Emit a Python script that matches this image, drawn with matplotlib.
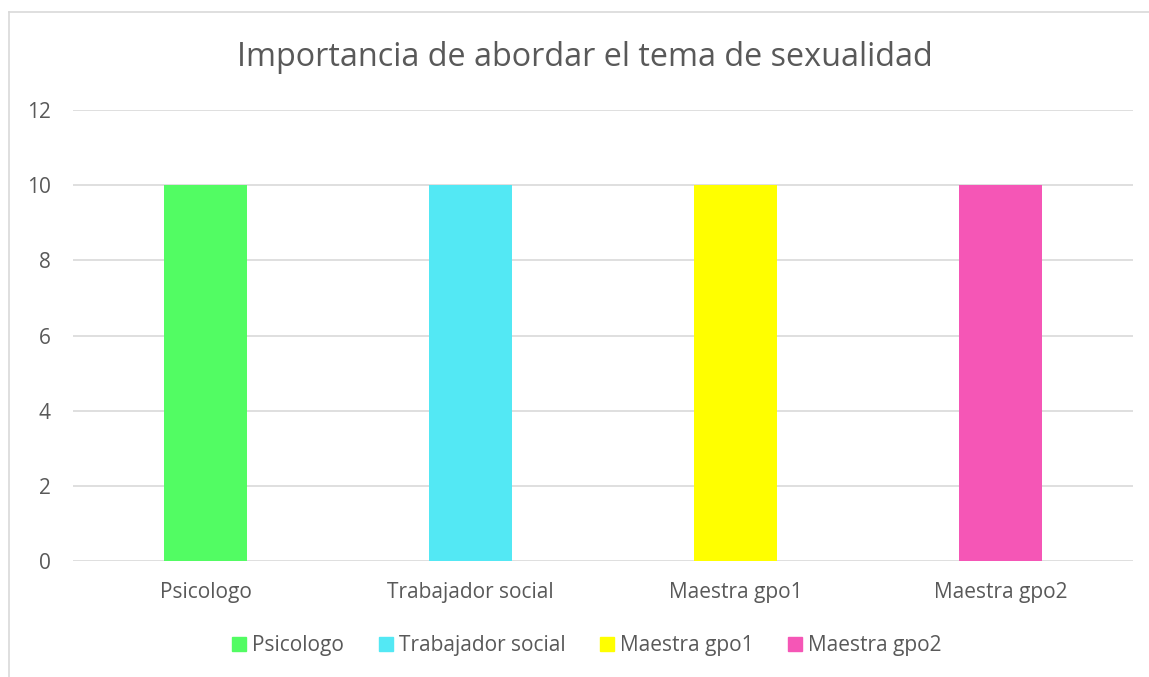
import matplotlib.pyplot as plt
from matplotlib.lines import Line2D
from matplotlib.patches import Patch

categorias = ["Psicologo", "Trabajador social", "Maestra gpo1", "Maestra gpo2"]
valores = [10, 10, 10, 10]
colores = ["#52FC63", "#53E8F4", "#FFFF00", "#F556B6"]
ticks_y = [0, 2, 4, 6, 8, 10, 12]

plt.rcParams['font.family'] = ['Open Sans', 'DejaVu Sans']

fig = plt.figure(figsize=(11.49, 6.77), dpi=100)
W, H = 1149, 677
ax = fig.add_axes([73 / W, 1 - 561 / H, (1133 - 73) / W, (561 - 110) / H])

x = range(len(categorias))
ax.bar(x, valores, width=0.313, color=colores, zorder=3)

ax.set_xlim(-0.5, len(categorias) - 0.5)
ax.set_ylim(0, 12)
ax.set_yticks(ticks_y)
ax.set_xticks(list(x))
ax.set_xticklabels(categorias)
ax.tick_params(axis='both', length=0, labelsize=15, colors="#595959")
ax.tick_params(axis='x', pad=15)
ax.tick_params(axis='y', pad=16)
ax.grid(axis='y', color="#D9D9D9", linewidth=1.2, zorder=0)
for s in ax.spines.values():
    s.set_visible(False)

fig.text(585 / W, 1 - 57 / H, "Importancia de abordar el tema de sexualidad",
         ha='center', va='center', fontsize=23.3, color="#595959")

handles = [Patch(color=c, label=l) for c, l in zip(colores, categorias)]
fig.legend(handles=handles, loc='center', bbox_to_anchor=(587 / W, 1 - 646 / H),
           ncol=4, frameon=False, fontsize=15, labelcolor="#595959",
           handlelength=0.67, handleheight=0.67, handletextpad=0.3, columnspacing=1.65)

# marco del grafico
fig.add_artist(Line2D([9 / W, 9 / W], [0, 1 - 12 / H], color="#D9D9D9", linewidth=1.2))
fig.add_artist(Line2D([9 / W, 1], [1 - 12 / H, 1 - 12 / H], color="#D9D9D9", linewidth=1.2))

fig.savefig("out.png", dpi=100)
